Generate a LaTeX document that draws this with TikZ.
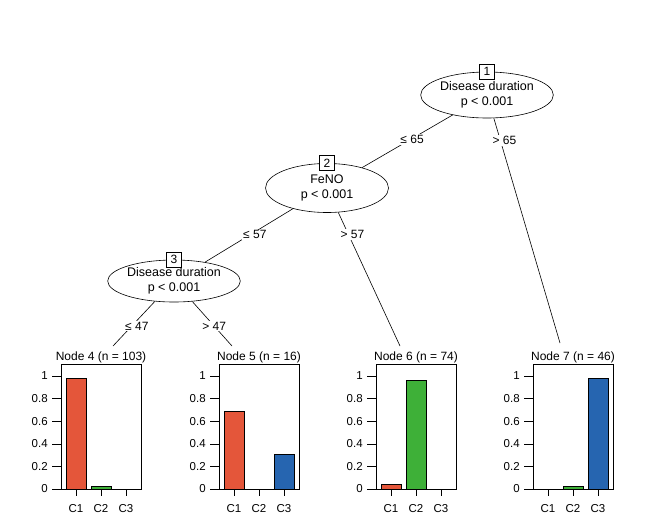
\documentclass[tikz,border=0pt]{standalone}
\usepackage{fontspec}
\setmainfont{Liberation Sans}
\usepackage{xcolor}
\usetikzlibrary{shapes.geometric, positioning}

\definecolor{barone}{RGB}{228,86,58}
\definecolor{bartwo}{RGB}{62,176,56}
\definecolor{barthree}{RGB}{38,101,176}

\tikzset{
	splitnode/.style={ellipse, draw, fill=white, align=center, inner sep=0pt,
		font=\fontsize{12.5}{15}\selectfont},
	idbox/.style={draw, fill=white, inner sep=0pt, minimum width=15pt, minimum height=15pt,
		font=\fontsize{12}{14}\selectfont},
	edgelab/.style={fill=white, inner sep=1pt, font=\fontsize{12}{14}\selectfont},
	paneltitle/.style={inner sep=0pt, font=\fontsize{12}{14}\selectfont},
	axlab/.style={inner sep=0pt, font=\fontsize{11.5}{13}\selectfont}
}

\begin{document}
\begin{tikzpicture}[x=1pt, y=-1pt, line width=0.6pt]
			\useasboundingbox (0,0) rectangle (660,528);
			
			%% Nós de divisão
			\node [splitnode, minimum width=129pt, minimum height=46pt] (n1) at (487,95) {Disease duration\\p < 0.001};
			\node [splitnode, minimum width=123pt, minimum height=49pt] (n2) at (327,188) {FeNO\\p < 0.001};
			\node [splitnode, minimum width=127pt, minimum height=42pt] (n3) at (174,281) {Disease duration\\p < 0.001};
			
			%% Números dos nós
			\node [idbox] (b1) at (n1.north) {1};
			\node [idbox] (b2) at (n2.north) {2};
			\node [idbox] (b3) at (n3.north) {3};
			
			%% Topo dos nós terminais
			\coordinate (t4) at (113,346);
			\coordinate (t5) at (232,346);
			\coordinate (t6) at (400,346);
			\coordinate (t7) at (560,343);
			
			%% Arestas
			\draw (n1) -- (n2) node [edgelab, pos=0.47, xshift=2pt] (e12) {≤ 65};
			\draw (n1) -- (t7) node [edgelab, pos=0.1, xshift=4pt] (e17) {> 65};
			\draw (n2) -- (n3) node [edgelab, pos=0.49, xshift=5pt] (e23) {≤ 57};
			\draw (n2) -- (t6) node [edgelab, pos=0.165, xshift=4pt] (e26) {> 57};
			\draw (n3) -- (t4) node [edgelab, pos=0.55, xshift=5pt] (e34) {≤ 47};
			\draw (n3) -- (t5) node [edgelab, pos=0.55] (e35) {> 47};
			
			%% Nós terminais (barras)
			\foreach \px/\va/\vb/\vc/\id/\nn in {61/0.98/0.02/0/4/103, 219/0.69/0/0.31/5/16, 376/0.04/0.96/0/6/74, 533/0/0.02/0.98/7/46}{
				\node [paneltitle] (p\id) at ({\px+40},357) {Node \id\ (n = \nn)};
				\draw [fill=barone] ({\px+5},489) rectangle ({\px+25},{489-113*\va});
				\draw [fill=bartwo] ({\px+30},489) rectangle ({\px+50},{489-113*\vb});
				\draw [fill=barthree] ({\px+55},489) rectangle ({\px+75},{489-113*\vc});
				\draw (\px,364) rectangle ({\px+80},489);
				%% eixo y
				\foreach \v/\lab [count=\j] in {0/0, 0.2/0.2, 0.4/0.4, 0.6/0.6, 0.8/0.8, 1/1}{
					\draw ({\px-9},{489-113*\v}) -- (\px,{489-113*\v});
					\node [axlab, anchor=east] (y\id\j) at ({\px-13},{489-113*\v}) {\lab};
				}
				%% eixo x
				\foreach \k/\lab in {15/C1, 40/C2, 65/C3}{
					\draw ({\px+\k},489) -- ({\px+\k},496);
					\node [axlab] (x\id\lab) at ({\px+\k},509) {\lab};
				}
			}
		\end{tikzpicture}
\end{document}
